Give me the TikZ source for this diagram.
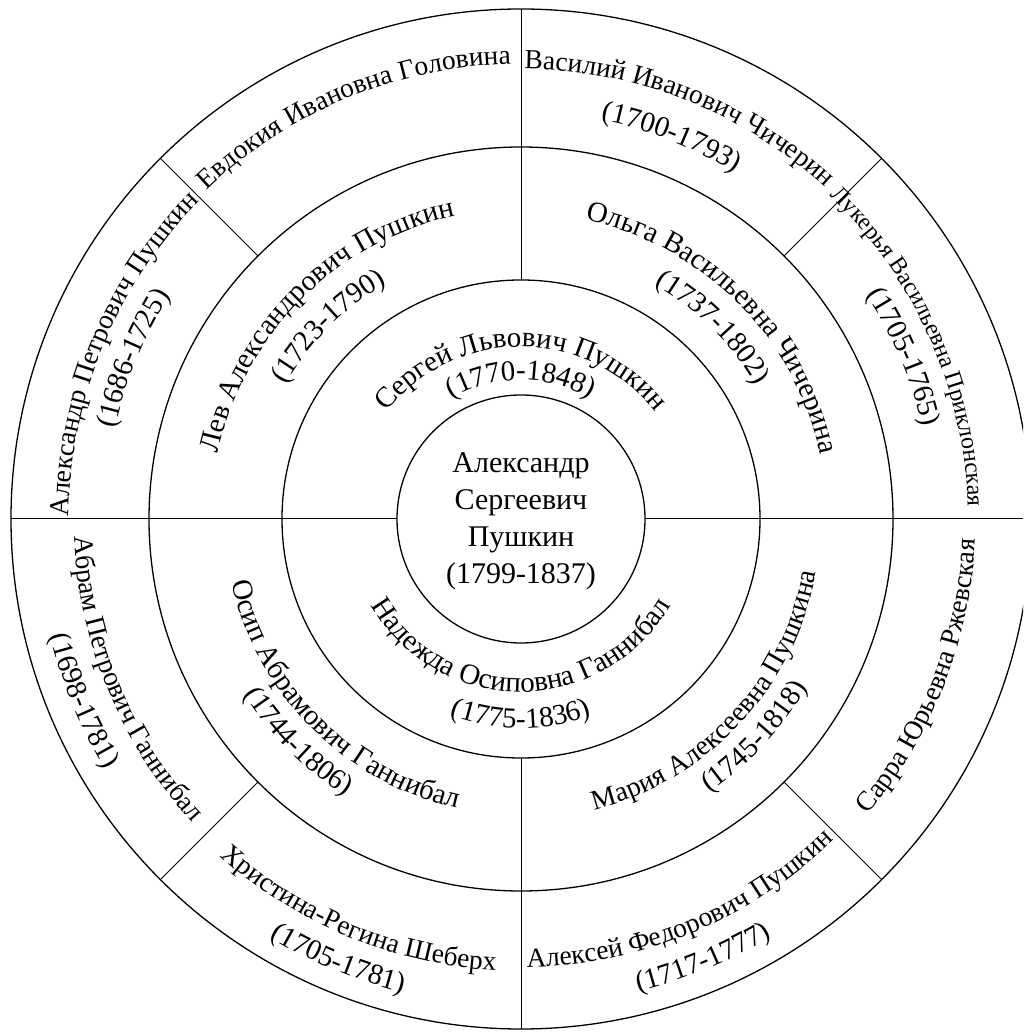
\documentclass[tikz,border=0pt]{standalone}
\usepackage{fontspec}
\setmainfont{Liberation Serif}
\usetikzlibrary{decorations.text}
\tikzset{
  ring/.style={line width=1.3pt},
  spoke/.style={line width=1pt},
  arctext/.style={decorate, decoration={text along path, text align=center, text={#1}}}
}
\newcommand{\outerfont}{\fontsize{27.5}{33}\selectfont}
\begin{document}
\fontsize{29}{35}\selectfont
\begin{tikzpicture}[x=1pt,y=1pt]
  \useasboundingbox (-521,-516) rectangle (502,519);
  \clip (-521,-516) rectangle (502,519);
  % rings
  \foreach \r in {124,239,372,510}
    \draw[ring] (0,0) circle[radius=\r];
  % dividing lines
  \draw[spoke] (-510,0) -- (-124,0);
  \draw[spoke] (124,0) -- (510,0);
  \draw[spoke] (0,239) -- (0,510);
  \draw[spoke] (0,-239) -- (0,-510);
  \foreach \a in {45,135,225,315}
    \draw[spoke] (\a:372) -- (\a:510);
  % centre
  \node[align=center, font=\fontsize{30}{37}\selectfont] (pushkin) at (0,-2)
    {Александр\\Сергеевич\\Пушкин\\(1799-1837)};
  % parents
  \path[arctext={Сергей Львович Пушкин}] (170:172) arc[start angle=170, end angle=10, radius=172];
  \path[arctext={(1770-1848)}] (170:139) arc[start angle=170, end angle=10, radius=139];
  \path[arctext={Надежда Осиповна Ганнибал}] (190:173) arc[start angle=190, end angle=350, radius=173];
  \path[arctext={(1775-1836)}] (190:209) arc[start angle=190, end angle=350, radius=209];
  % grandparents
  \path[arctext={Лев Александрович Пушкин}] (195:310) arc[start angle=195, end angle=75, radius=310];
  \path[arctext={(1723-1790)}] (195:271) arc[start angle=195, end angle=75, radius=271];
  \path[arctext={Ольга Васильевна Чичерина}] (105:306) arc[start angle=105, end angle=-15, radius=306];
  \path[arctext={(1737-1802)}] (105:270) arc[start angle=105, end angle=-15, radius=270];
  \path[arctext={Осип Абрамович Ганнибал}] (165:296) arc[start angle=165, end angle=285, radius=296];
  \path[arctext={(1744-1806)}] (165:328) arc[start angle=165, end angle=285, radius=328];
  \path[arctext={|\fontsize{28}{34}\selectfont|Мария Алексеевна Пушкина}] (257:300) arc[start angle=257, end angle=377, radius=300];
  \path[arctext={(1745-1818)}] (257:332) arc[start angle=257, end angle=377, radius=332];
  % great-grandparents, upper half
  \path[arctext={|\outerfont|Евдокия Ивановна Головина}] (152.5:455) arc[start angle=152.5, end angle=72.5, radius=455];
  \path[arctext={|\outerfont|Александр Петрович Пушкин}] (197.5:452) arc[start angle=197.5, end angle=117.5, radius=452];
  \path[arctext={(1686-1725)}] (197.5:416) arc[start angle=197.5, end angle=117.5, radius=416];
  \path[arctext={|\outerfont|Василий Иванович Чичерин}] (108.5:450) arc[start angle=108.5, end angle=28.5, radius=450];
  \path[arctext={(1700-1793)}] (108.5:407) arc[start angle=108.5, end angle=28.5, radius=407];
  \path[arctext={|\fontsize{24}{29}\selectfont|Лукерья Васильевна Приклонская}] (64:447) arc[start angle=64, end angle=-16, radius=447];
  \path[arctext={(1705-1765)}] (63:412) arc[start angle=63, end angle=-17, radius=412];
  % great-grandparents, lower half
  \path[arctext={|\outerfont|Абрам Петрович Ганнибал}] (162.5:447) arc[start angle=162.5, end angle=242.5, radius=447];
  \path[arctext={(1698-1781)}] (162.5:485) arc[start angle=162.5, end angle=242.5, radius=485];
  \path[arctext={|\outerfont|Христина-Регина Шеберх}] (207.5:452) arc[start angle=207.5, end angle=287.5, radius=452];
  \path[arctext={(1705-1781)}] (207.5:488) arc[start angle=207.5, end angle=287.5, radius=488];
  \path[arctext={|\outerfont|Алексей Федорович Пушкин}] (252.5:448) arc[start angle=252.5, end angle=332.5, radius=448];
  \path[arctext={(1717-1777)}] (252.5:487) arc[start angle=252.5, end angle=332.5, radius=487];
  \path[arctext={|\outerfont|Сарра Юрьевна Ржевская}] (298.5:455) arc[start angle=298.5, end angle=378.5, radius=455];
\end{tikzpicture}
\end{document}
